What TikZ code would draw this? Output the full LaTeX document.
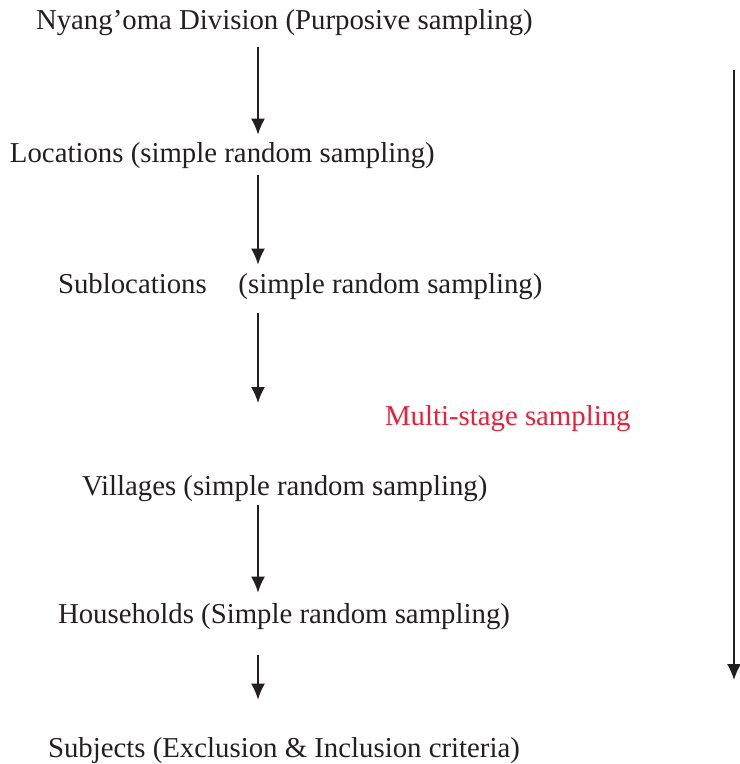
\documentclass[tikz,border=0pt]{standalone}
\usepackage{fontspec}
\setmainfont{Liberation Serif}
\usepackage{xcolor}
\usetikzlibrary{arrows.meta,positioning}
\definecolor{inkblack}{HTML}{231F20}
\definecolor{stagered}{HTML}{E8203A}
\tikzstyle{arrow} = [line width=0.8pt,-{Latex[length=8pt,width=7pt]},draw=inkblack]
\tikzstyle{stage} = [anchor=base west, inner sep=0pt, outer sep=0pt, text=inkblack, font=\fontsize{14.4}{17}\selectfont]

\begin{document}
\begin{tikzpicture}[x=0.5pt,y=-0.5pt]
    \useasboundingbox (0,0) rectangle (739,764);
    % sampling stages
    \node[stage] (division) at (36,30) {Nyang'oma Division (Purposive sampling)};
    \node[stage] (locations) at (10,163) {Locations (simple random sampling)};
    \node[stage] (sublocations) at (58,293) {Sublocations\hspace{1.1em}(simple random sampling)};
    \node[stage] (villages) at (82,495) {Villages (simple random sampling)};
    \node[stage] (households) at (58,623) {Households (Simple random sampling)};
    \node[stage] (subjects) at (48,757) {Subjects (Exclusion \& Inclusion criteria)};
    \node[stage, text=stagered] (multistage) at (385,425) {Multi-stage sampling};
    % arrows between stages
    \coordinate (stem) at (258,0);
    \draw[arrow, shorten <=5.4pt, shorten >=4.2pt] (division.south -| stem) -- (locations.north -| stem);
    \draw[arrow, shorten <=3pt, shorten >=4.2pt] (locations.south -| stem) -- (sublocations.north -| stem);
    \draw[arrow, shorten <=7pt, shorten >=36pt] (sublocations.south -| stem) -- (villages.north -| stem);
    \draw[arrow, shorten <=2pt, shorten >=5.2pt] (villages.south -| stem) -- (households.north -| stem);
    \draw[arrow, shorten <=13pt, shorten >=18.7pt] (households.south -| stem) -- (subjects.north -| stem);
    % overall multi-stage arrow
    \coordinate (spanTop) at (734,70);
    \coordinate (spanEnd) at (734,680);
    \draw[arrow] (spanTop) -- (spanEnd);
\end{tikzpicture}
\end{document}
